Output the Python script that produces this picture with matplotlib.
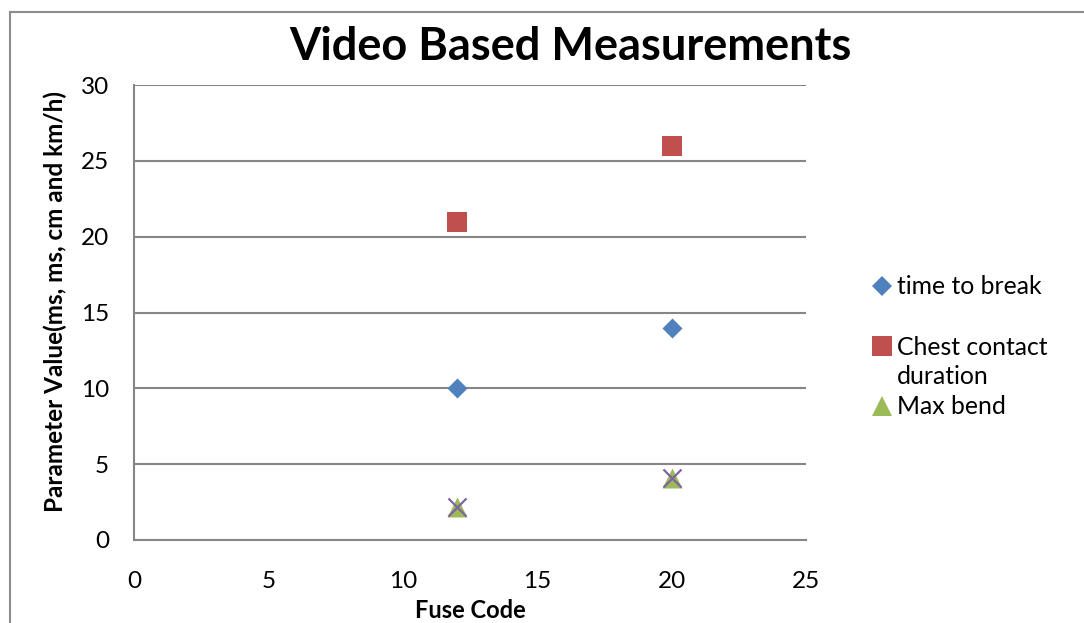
import matplotlib
matplotlib.use("Agg")
import matplotlib.pyplot as plt
from matplotlib.lines import Line2D

plt.rcParams['font.family'] = ['Lato', 'DejaVu Sans']

fuse_code = [12, 20]
time_to_break = [10, 14]
chest_contact = [21, 26]
max_bend = [2.2, 4.1]
fourth_series = [2.2, 4.1]

x_ticks = [0, 5, 10, 15, 20, 25]
y_ticks = [0, 5, 10, 15, 20, 25, 30]

W, H = 1084, 623
fig = plt.figure(figsize=(W / 100, H / 100), dpi=100)
ax = fig.add_axes([134 / W, 1 - 540 / H, (806 - 134) / W, (540 - 85) / H])

grid_c = '#868686'
ax.scatter(fuse_code, time_to_break, marker='D', s=10.2**2, color='#4F81BD', zorder=3, linewidths=0)
ax.scatter(fuse_code, chest_contact, marker='s', s=14**2, color='#C0504D', zorder=3, linewidths=0)
ax.scatter(fuse_code, max_bend, marker='^', s=14.4**2, color='#9BBB59', zorder=3, linewidths=0)
ax.scatter(fuse_code, fourth_series, marker='x', s=13**2, color='#8064A2', zorder=4, linewidths=1.6)

ax.set_xlim(0, 25)
ax.set_ylim(0, 30)
ax.set_xticks(x_ticks)
ax.set_yticks(y_ticks)
ax.tick_params(length=0, labelsize=17.5)
ax.tick_params(axis='y', pad=18)
ax.tick_params(axis='x', pad=22)
ax.grid(axis='y', color=grid_c, linewidth=1.5)
ax.set_axisbelow(True)
for s in ['top', 'right']:
    ax.spines[s].set_visible(False)
for s in ['left', 'bottom']:
    ax.spines[s].set_color(grid_c)
    ax.spines[s].set_linewidth(1.5)

ax.set_xlabel('Fuse Code', fontsize=17, fontweight='bold', va='center')
ax.xaxis.set_label_coords(0.5 - (806 + 134 - 2 * 470) / 2 / 672, -(611 - 540) / 455)
ax.set_ylabel('Parameter Value(ms, ms, cm and km/h)', fontsize=17.5, fontweight='bold', va='center')
ax.yaxis.set_label_coords(-(134 - 55) / 672, (540 - 302) / 455)
fig.text(570 / W, 1 - 47 / H, 'Video Based Measurements', fontsize=32.5, fontweight='bold',
         ha='center', va='center')

# legend
leg_items = [
    ('D', '#4F81BD', 10.2, 'time to break', 286),
    ('s', '#C0504D', 14, 'Chest contact\nduration', 362),
    ('^', '#9BBB59', 14.4, 'Max bend', 406),
]
for m, c, ms, label, y in leg_items:
    my = y if '\n' not in label else 346
    fig.add_artist(Line2D([882 / W], [1 - my / H], marker=m, color=c, markersize=ms,
                          markeredgewidth=0, linestyle='none', transform=fig.transFigure))
    fig.text(897 / W, 1 - y / H, label, fontsize=17.8, va='center', ha='left', linespacing=1.3)

# outer border
fig.add_artist(Line2D([10 / W, 10 / W], [0, 1 - 12 / H], color='#8C8C8C', linewidth=1.5,
                      transform=fig.transFigure))
fig.add_artist(Line2D([10 / W, 1], [1 - 12 / H, 1 - 12 / H], color='#8C8C8C', linewidth=1.5,
                      transform=fig.transFigure))

fig.savefig('out.png', dpi=100)
